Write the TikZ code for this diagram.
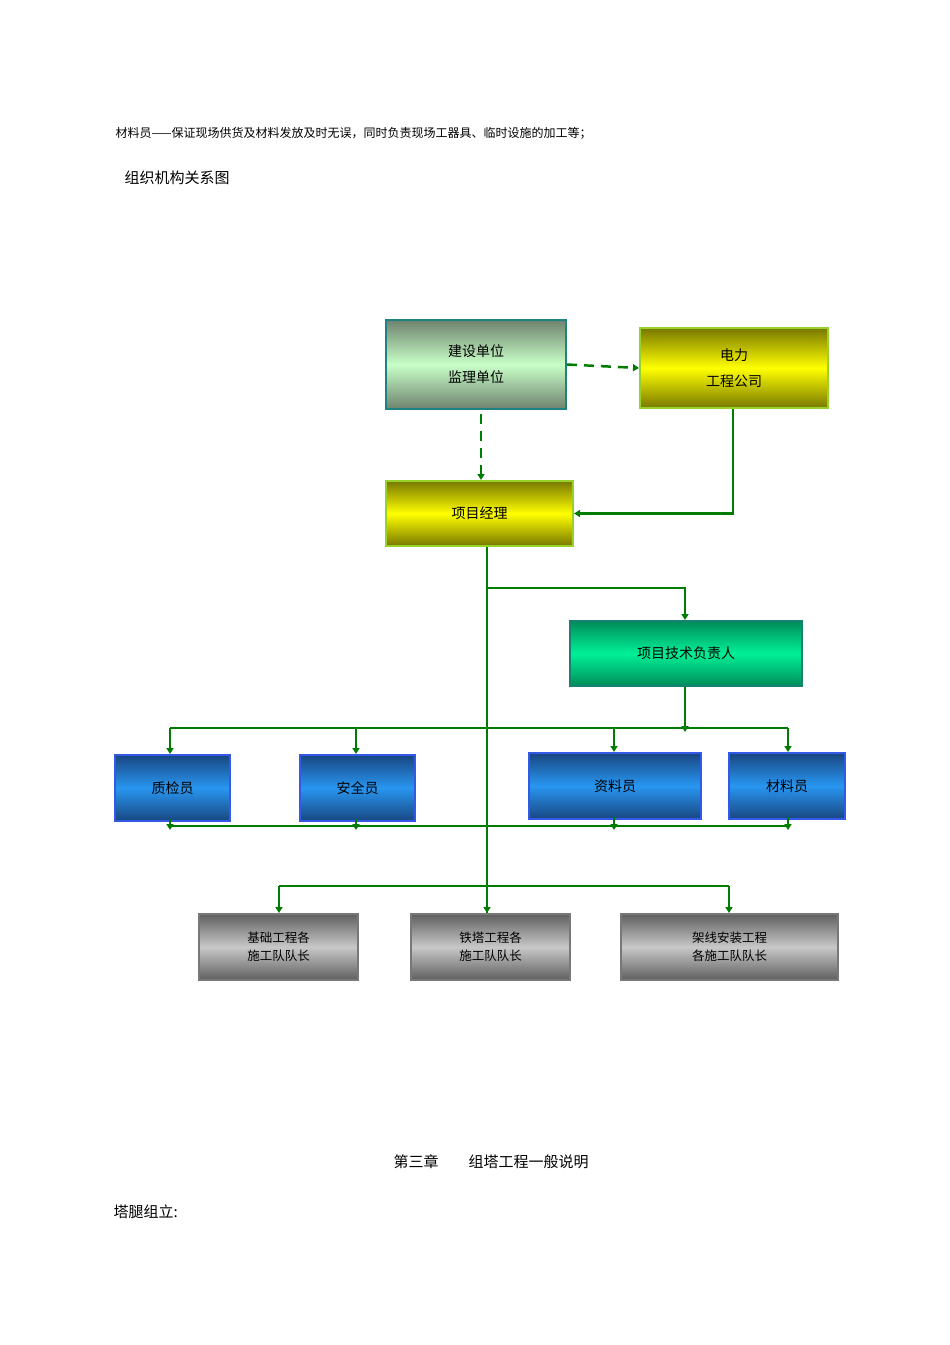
\documentclass[tikz,border=0pt]{standalone}
\usepackage{fontspec}
\newfontfamily\cjk{Noto Sans CJK SC}
\usetikzlibrary{arrows.meta}
\definecolor{gl}{RGB}{0,125,0}
\begin{document}
\begin{tikzpicture}[x=1pt,y=-1pt,font=\cjk,
 bx/.style={draw,line width=2pt,anchor=north west,inner sep=0pt,align=center,font=\cjk\fontsize{14}{20}\selectfont,text=black},
 teal/.style={bx,draw={rgb,255:red,30;green,130;blue,130},top color={rgb,255:red,110;green,130;blue,110},bottom color={rgb,255:red,110;green,130;blue,110},middle color={rgb,255:red,200;green,255;blue,200}},
 yel/.style={bx,draw={rgb,255:red,150;green,210;blue,40},top color={rgb,255:red,120;green,120;blue,0},bottom color={rgb,255:red,120;green,120;blue,0},middle color=yellow},
 grn/.style={bx,draw={rgb,255:red,20;green,130;blue,110},top color={rgb,255:red,0;green,140;blue,90},bottom color={rgb,255:red,0;green,140;blue,90},middle color={rgb,255:red,0;green,240;blue,150}},
 blu/.style={bx,draw={rgb,255:red,50;green,90;blue,230},top color={rgb,255:red,25;green,70;blue,130},bottom color={rgb,255:red,25;green,70;blue,130},middle color={rgb,255:red,40;green,150;blue,240}},
 gry/.style={bx,draw={rgb,255:red,120;green,120;blue,120},top color={rgb,255:red,95;green,95;blue,95},bottom color={rgb,255:red,95;green,95;blue,95},middle color={rgb,255:red,200;green,200;blue,200},font=\cjk\fontsize{12.5}{18}\selectfont},
 ln/.style={draw=gl,line width=2.5pt},
 ar/.style={ln,-{Triangle[length=6pt,width=7pt]}},
 da/.style={ar,dash pattern=on 10pt off 7pt}]
\useasboundingbox (0,0) rectangle (950,1345);
\node[anchor=west,font=\cjk\fontsize{12}{14}\selectfont] (t1) at (112,133) {材料员——保证现场供货及材料发放及时无误，同时负责现场工器具、临时设施的加工等；};
\node[anchor=west,font=\cjk\fontsize{15}{18}\selectfont] (t2) at (121,178) {组织机构关系图};
\node[font=\cjk\fontsize{15}{18}\selectfont] (t3) at (491,1162) {第三章\quad\quad 组塔工程一般说明};
\node[anchor=west,font=\cjk\fontsize{15}{18}\selectfont] (t4) at (110,1212) {塔腿组立:};

\node[teal,minimum width=180,minimum height=89] (js) at (385,319) {建设单位\\[6pt]监理单位};
\node[yel,minimum width=188,minimum height=80] (dl) at (639,327) {电力\\[6pt]工程公司};
\node[yel,minimum width=187,minimum height=65] (pm) at (385,480) {项目经理};
\node[grn,minimum width=232,minimum height=65] (tech) at (569,620) {项目技术负责人};
\node[blu,minimum width=115,minimum height=66] (zj) at (114,754) {质检员};
\node[blu,minimum width=115,minimum height=66] (aq) at (299,754) {安全员};
\node[blu,minimum width=172,minimum height=66] (zl) at (528,752) {资料员};
\node[blu,minimum width=116,minimum height=66] (cl) at (728,752) {材料员};
\node[gry,minimum width=159,minimum height=66] (g1) at (198,913) {基础工程各\\施工队队长};
\node[gry,minimum width=159,minimum height=66] (g2) at (410,913) {铁塔工程各\\施工队队长};
\node[gry,minimum width=217,minimum height=66] (g3) at (620,913) {架线安装工程\\各施工队队长};

\coordinate (b1) at (170,728); \coordinate (b2) at (788,728);
\coordinate (c1) at (170,826); \coordinate (c2) at (788,826);
\coordinate (d1) at (279,886); \coordinate (d2) at (729,886);
\coordinate (e) at (487,588);

\draw[da] (js.east) -- (dl.west);
\draw[da] (js.south -| 481,0) ++(0,4) -- (pm.north -| 481,0);
\draw[ar] (dl.south -| 733,0) |- (pm.east);
\draw[ln] (pm.south -| 487,0) -- (g2.north -| 487,0);
\draw[ar] (e) -| (tech.north -| 685,0);
\draw[ar] (tech.south -| 685,0) -- (685,732);
\draw[ln] (b1) -- (b2);
\draw[ar] (b1) -- (zj.north -| b1);
\draw[ar] (356,728) -- (aq.north -| 356,0);
\draw[ar] (614,728) -- (zl.north -| 614,0);
\draw[ar] (b2) -- (cl.north -| b2);
\draw[ln] (c1) -- (c2);
\draw[ar] (zj.south -| c1) ++(0,-3) -- (170,830);
\draw[ar] (aq.south -| 356,0) ++(0,-3) -- (356,830);
\draw[ar] (zl.south -| 614,0) ++(0,-3) -- (614,830);
\draw[ar] (cl.south -| c2) ++(0,-3) -- (788,830);
\draw[ln] (d1) -- (d2);
\draw[ar] (d1) -- (g1.north -| d1);
\draw[ar] (487,886) -- (g2.north -| 487,0);
\draw[ar] (d2) -- (g3.north -| d2);
\end{tikzpicture}
\end{document}
